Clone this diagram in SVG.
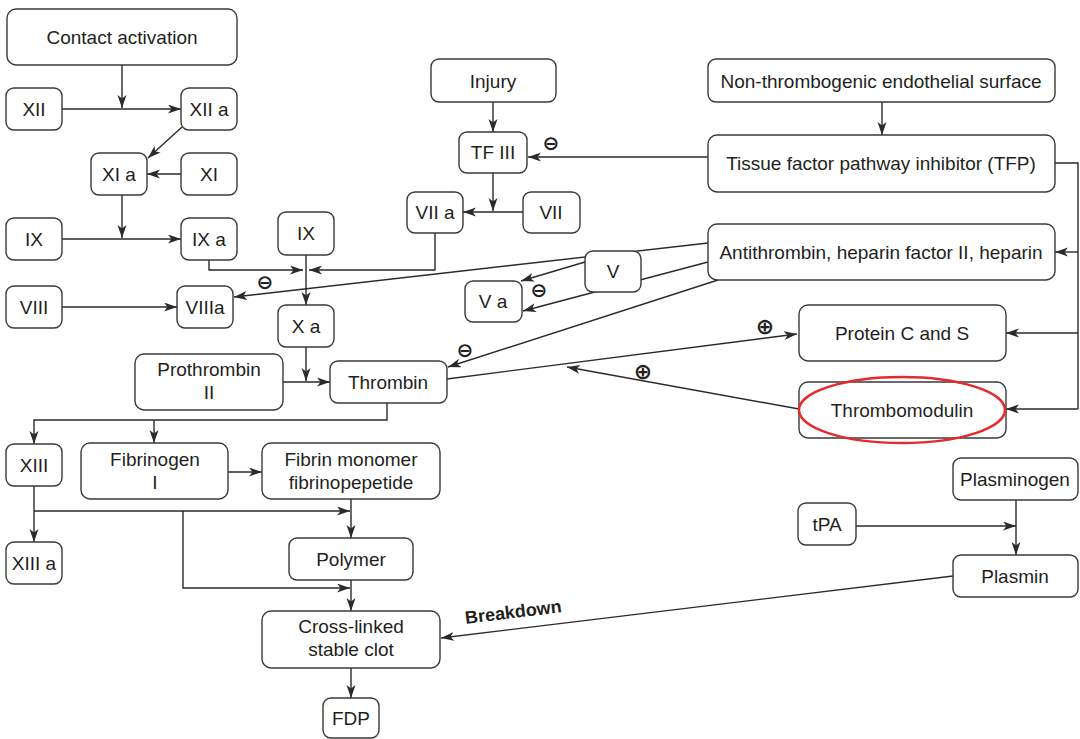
<svg xmlns="http://www.w3.org/2000/svg" width="1080" height="739" viewBox="0 0 1080 739">
<style>
.b{fill:#fff;stroke:#3a3a3a;stroke-width:1.4}
.t{font-family:"Liberation Sans",Arial,Helvetica,sans-serif;font-size:19px;fill:#231f20;text-anchor:middle}
.c{fill:none;stroke:#2a2a2a;stroke-width:1.4}
.a{marker-end:url(#ar)}
.s{font-family:"DejaVu Sans",sans-serif;font-size:20px;font-weight:bold;fill:#231f20;text-anchor:middle}
.p{font-size:22px}
</style>
<defs>
<marker id="ar" markerUnits="userSpaceOnUse" markerWidth="14" markerHeight="10" refX="13" refY="4.5" orient="auto">
<path d="M0,0 L13,4.5 L0,9 L3.5,4.5 Z" fill="#2a2a2a"/>
</marker>
</defs>
<rect width="1080" height="739" fill="#fff"/>
<g id="connectors">
<path class="c a" d="M122,65 V108"/>
<path class="c a" d="M62,109 H181"/>
<path class="c a" d="M182,127 L148,158"/>
<path class="c a" d="M181,174 H147"/>
<path class="c a" d="M122,195 V238"/>
<path class="c a" d="M62,239 H181"/>
<path class="c a" d="M209,260 V270 H303"/>
<path class="c a" d="M435,233 V270 H309"/>
<path class="c a" d="M306,255 V305"/>
<path class="c a" d="M62,307 H177"/>
<path class="c a" d="M708,243 L234,297"/>
<path class="c a" d="M585,262 L521,281"/>
<path class="c a" d="M708,262 L523,311"/>
<path class="c a" d="M718,280 L448,367"/>
<path class="c a" d="M447,379 L797,334"/>
<path class="c a" d="M799,409 L567,367"/>
<path class="c a" d="M306,347 V381"/>
<path class="c a" d="M283,382 H330"/>
<path class="c a" d="M387,403 V420 H34 V444"/>
<path class="c a" d="M154,420 V443"/>
<path class="c a" d="M228,472 H262"/>
<path class="c a" d="M34,486 V542"/>
<path class="c a" d="M34,511 H350"/>
<path class="c a" d="M183,511 V588 H350"/>
<path class="c a" d="M351,499 V538"/>
<path class="c a" d="M351,580 V611"/>
<path class="c a" d="M351,668 V698"/>
<path class="c a" d="M493,102 V132"/>
<path class="c a" d="M493,173 V211"/>
<path class="c a" d="M523,212 H463"/>
<path class="c a" d="M708,157 H528"/>
<path class="c a" d="M882,102 V135"/>
<path class="c" d="M1055,163 H1078 V409"/>
<path class="c a" d="M1078,252 H1055"/>
<path class="c a" d="M1078,333 H1006"/>
<path class="c a" d="M1078,409 H1006"/>
<path class="c a" d="M856,526 H1016"/>
<path class="c a" d="M1016,500 V555"/>
<path class="c a" d="M953,576 L441,638"/>
<text class="t" style="font-weight:bold;font-size:18px" transform="translate(514,618) rotate(-7)">Breakdown</text>
<text class="s" x="551" y="150">⊖</text>
<text class="s" x="265" y="289">⊖</text>
<text class="s" x="539" y="297">⊖</text>
<text class="s" x="465" y="357">⊖</text>
<text class="s p" x="765" y="334">⊕</text>
<text class="s p" x="643" y="379">⊕</text>
</g>
<g id="n-contact"><rect class="b" x="7" y="9" width="230" height="56" rx="9"/><text class="t" x="122" y="44">Contact activation</text></g>
<g id="n-xii"><rect class="b" x="6" y="88" width="56" height="42" rx="8"/><text class="t" x="34" y="116">XII</text></g>
<g id="n-xiia"><rect class="b" x="181" y="88" width="56" height="42" rx="8"/><text class="t" x="209" y="116">XII a</text></g>
<g id="n-xia"><rect class="b" x="91" y="153" width="56" height="42" rx="8"/><text class="t" x="119" y="181">XI a</text></g>
<g id="n-xi"><rect class="b" x="181" y="153" width="56" height="42" rx="8"/><text class="t" x="209" y="181">XI</text></g>
<g id="n-ix"><rect class="b" x="6" y="218" width="56" height="42" rx="8"/><text class="t" x="34" y="246">IX</text></g>
<g id="n-ixa"><rect class="b" x="181" y="218" width="56" height="42" rx="8"/><text class="t" x="209" y="246">IX a</text></g>
<g id="n-ix2"><rect class="b" x="278" y="212" width="56" height="43" rx="8"/><text class="t" x="306" y="240">IX</text></g>
<g id="n-viii"><rect class="b" x="6" y="286" width="56" height="42" rx="8"/><text class="t" x="34" y="314">VIII</text></g>
<g id="n-viiia"><rect class="b" x="177" y="286" width="56" height="42" rx="8"/><text class="t" x="205" y="314">VIIIa</text></g>
<g id="n-xa"><rect class="b" x="278" y="305" width="56" height="42" rx="8"/><text class="t" x="306" y="333">X a</text></g>
<g id="n-prothrombin"><rect class="b" x="135" y="354" width="148" height="56" rx="9"/><text class="t" x="209" y="376">Prothrombin</text><text class="t" x="209" y="399">II</text></g>
<g id="n-thrombin"><rect class="b" x="330" y="361" width="117" height="42" rx="8"/><text class="t" x="388" y="389">Thrombin</text></g>
<g id="n-xiii"><rect class="b" x="6" y="444" width="56" height="42" rx="8"/><text class="t" x="34" y="472">XIII</text></g>
<g id="n-fibrinogen"><rect class="b" x="81" y="443" width="147" height="56" rx="9"/><text class="t" x="155" y="466">Fibrinogen</text><text class="t" x="155" y="489">I</text></g>
<g id="n-fibrin"><rect class="b" x="262" y="443" width="178" height="56" rx="9"/><text class="t" x="351" y="466">Fibrin monomer</text><text class="t" x="351" y="489">fibrinopepetide</text></g>
<g id="n-xiiia"><rect class="b" x="6" y="542" width="56" height="42" rx="8"/><text class="t" x="34" y="570">XIII a</text></g>
<g id="n-polymer"><rect class="b" x="289" y="538" width="124" height="42" rx="8"/><text class="t" x="351" y="566">Polymer</text></g>
<g id="n-clot"><rect class="b" x="262" y="611" width="178" height="57" rx="9"/><text class="t" x="351" y="633">Cross-linked</text><text class="t" x="351" y="656">stable clot</text></g>
<g id="n-fdp"><rect class="b" x="323" y="698" width="56" height="40" rx="8"/><text class="t" x="351" y="725">FDP</text></g>
<g id="n-injury"><rect class="b" x="431" y="59" width="125" height="43" rx="8"/><text class="t" x="493" y="88">Injury</text></g>
<g id="n-tfiii"><rect class="b" x="459" y="132" width="68" height="41" rx="8"/><text class="t" x="493" y="159">TF III</text></g>
<g id="n-viia"><rect class="b" x="407" y="192" width="56" height="41" rx="8"/><text class="t" x="435" y="219">VII a</text></g>
<g id="n-vii"><rect class="b" x="523" y="192" width="57" height="41" rx="8"/><text class="t" x="551" y="219">VII</text></g>
<g id="n-v"><rect class="b" x="585" y="251" width="56" height="41" rx="8"/><text class="t" x="613" y="278">V</text></g>
<g id="n-va"><rect class="b" x="465" y="281" width="57" height="41" rx="8"/><text class="t" x="493" y="308">V a</text></g>
<g id="n-nonthrombo"><rect class="b" x="708" y="59" width="347" height="43" rx="8"/><text class="t" x="881" y="88">Non-thrombogenic endothelial surface</text></g>
<g id="n-tfp"><rect class="b" x="708" y="135" width="347" height="57" rx="9"/><text class="t" x="881" y="170">Tissue factor pathway inhibitor (TFP)</text></g>
<g id="n-antithrombin"><rect class="b" x="708" y="224" width="347" height="56" rx="9"/><text class="t" x="881" y="259">Antithrombin, heparin factor II, heparin</text></g>
<g id="n-proteincs"><rect class="b" x="799" y="305" width="207" height="56" rx="9"/><text class="t" x="902" y="340">Protein C and S</text></g>
<g id="n-thrombomodulin"><rect class="b" x="799" y="382" width="207" height="56" rx="9"/><text class="t" x="902" y="417">Thrombomodulin</text><ellipse cx="902" cy="410" rx="103" ry="33" fill="none" stroke="#e32b2b" stroke-width="2.5"/></g>
<g id="n-plasminogen"><rect class="b" x="953" y="458" width="125" height="42" rx="8"/><text class="t" x="1015" y="486">Plasminogen</text></g>
<g id="n-tpa"><rect class="b" x="798" y="503" width="58" height="42" rx="8"/><text class="t" x="827" y="531">tPA</text></g>
<g id="n-plasmin"><rect class="b" x="953" y="555" width="125" height="42" rx="8"/><text class="t" x="1015" y="583">Plasmin</text></g>
</svg>
